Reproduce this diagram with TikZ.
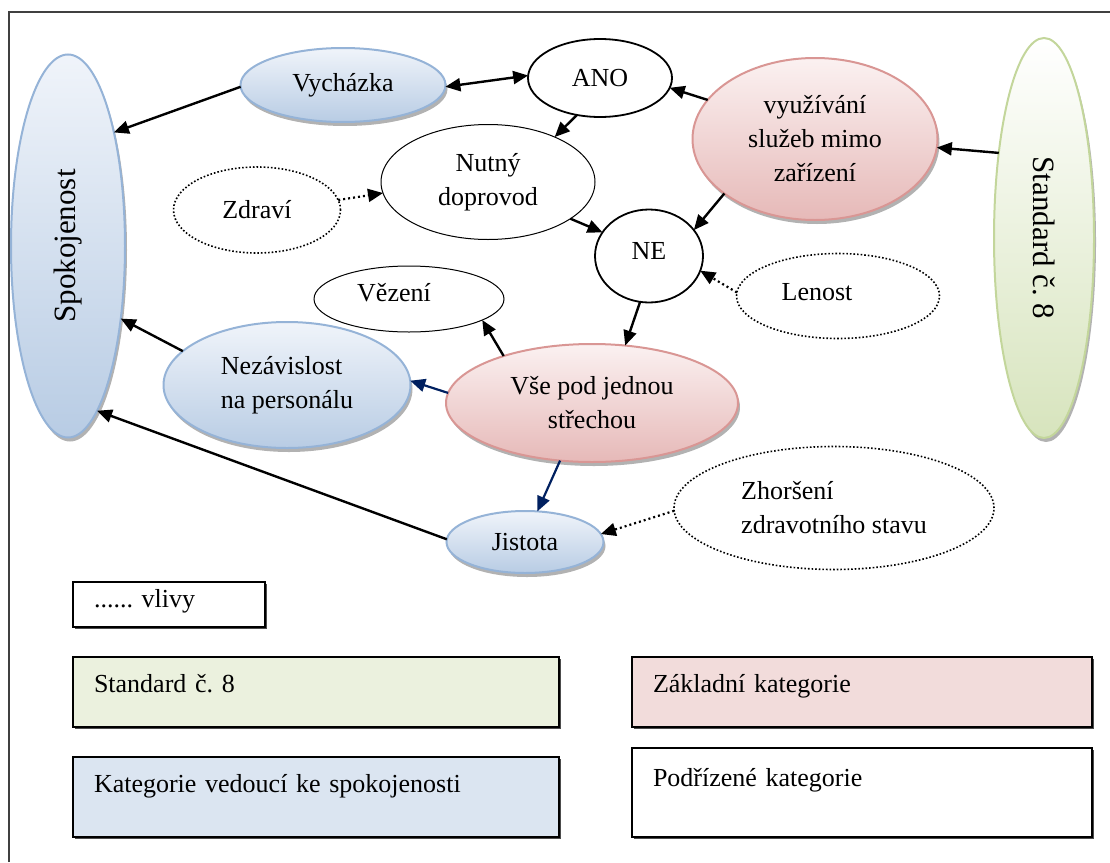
\documentclass[tikz,border=0pt]{standalone}
\usepackage{fontspec}
\setmainfont{Liberation Serif}
\usetikzlibrary{shapes.geometric,shadows,arrows.meta}
\definecolor{bluetop}{HTML}{F0F4FA}
\definecolor{bluebot}{HTML}{B8CCE4}
\definecolor{blueline}{HTML}{95B3D7}
\definecolor{pinktop}{HTML}{FBF1F1}
\definecolor{pinkbot}{HTML}{E6B9B8}
\definecolor{pinkline}{HTML}{D99694}
\definecolor{greentop}{HTML}{FFFFFF}
\definecolor{greenbot}{HTML}{D7E4BD}
\definecolor{greenline}{HTML}{C3D69B}
\definecolor{greenkey}{HTML}{EBF1DE}
\definecolor{pinkkey}{HTML}{F2DCDB}
\definecolor{bluekey}{HTML}{DBE5F1}
\definecolor{navy}{HTML}{002060}
\frenchspacing
\begin{document}
\begin{tikzpicture}[x=1pt, y=-1pt, >={Triangle[length=15pt,width=13pt]},
  font=\fontsize{26}{34}\selectfont,
  cat/.style={ellipse, inner sep=0pt, outer sep=0pt, align=center},
  catshadow/.style={drop shadow={shadow xshift=2pt, shadow yshift=-4pt, fill=black, opacity=.3}},
  bluecat/.style={cat, catshadow, draw=blueline, line width=2pt, top color=bluetop, bottom color=bluebot},
  pinkcat/.style={cat, catshadow, draw=pinkline, line width=2pt, top color=pinktop, bottom color=pinkbot},
  greencat/.style={cat, catshadow, draw=greenline, line width=2pt, top color=greentop, bottom color=greenbot},
  keycat/.style={cat, draw, line width=1.8pt, fill=white},
  subcat/.style={cat, draw, line width=1pt, fill=white},
  influence/.style={cat, draw, line width=1.6pt, dotted, fill=white},
  legendbox/.style={rectangle, draw, line width=1.5pt, inner xsep=21pt, inner ysep=0pt, align=left,
    drop shadow={shadow xshift=1.5pt, shadow yshift=-1.5pt, fill=black!70, opacity=1}},
  link/.style={line width=2.4pt},
  navylink/.style={line width=2.2pt, draw=navy, fill=navy},
  dotlink/.style={line width=2.2pt, dash pattern=on 2pt off 3pt}]
\useasboundingbox (0,0) rectangle (1110,862);
\draw[black!75, line width=1.5pt] (9,862) -- (9,12) -- (1110,12);
\node[bluecat, minimum width=114pt, minimum height=383pt] (spok) at (68,246) {\rotatebox{90}{\fontsize{31}{34}\selectfont Spokojenost}};
\node[bluecat, minimum width=205pt, minimum height=74pt] (vych) at (343,85) {Vycházka};
\node[keycat, minimum width=144pt, minimum height=78pt] (ano) at (600,78) {ANO};
\node[subcat, minimum width=214pt, minimum height=115pt] (nutny) at (488,182) {Nutný\\doprovod};
\node[influence, minimum width=167pt, minimum height=86pt] (zdravi) at (257,210) {Zdraví};
\node[pinkcat, minimum width=245pt, minimum height=162pt] (vyuz) at (815,139) {využívání\\služeb mimo\\zařízení};
\node[greencat, minimum width=100pt, minimum height=400pt] (std) at (1044,238) {\rotatebox{-90}{\fontsize{31}{34}\selectfont Standard č. 8}};
\node[keycat, minimum width=108pt, minimum height=93pt] (ne) at (649,256) {\raisebox{10pt}{NE}};
\node[influence, minimum width=203pt, minimum height=85pt] (lenost) at (838,296) {\raisebox{8pt}{Lenost}\hspace*{42pt}};
\node[subcat, minimum width=190pt, minimum height=66pt] (vezeni) at (409,299) {\raisebox{14pt}{Vězení}\hspace*{30pt}};
\node[bluecat, minimum width=247pt, minimum height=126pt, align=left] (nezav) at (287,385) {Nezávislost\\na personálu};
\node[pinkcat, minimum width=292pt, minimum height=118pt] (vse) at (592,403) {Vše pod jednou\\střechou};
\node[bluecat, minimum width=157pt, minimum height=62pt] (jist) at (525,542) {Jistota};
\node[influence, minimum width=320pt, minimum height=123pt, align=left] (zhor) at (834,508) {Zhoršení\\zdravotního stavu};
\draw[link, ->] (vych.181) -- (spok.68);
\draw[link, <->] (vych.-1) -- (ano.178);
\draw[link, ->] (vyuz.160) -- (ano.-8);
\draw[link, ->] (ano.-122) -- (nutny.34);
\draw[link, ->] (nutny.-24) -- (ne.153);
\draw[link, ->] (vyuz.-149) -- (ne.30);
\draw[link, ->] (std.118) -- (vyuz.-4);
\draw[dotlink, ->] (zdravi.7) -- (nutny.186);
\draw[dotlink, ->] (lenost.178) -- (ne.-16);
\draw[link, ->] (ne.-101) -- (vse.60);
\draw[link, ->] (vse.152) -- (vezeni.-16);
\draw[navylink, ->] (vse.176) -- (nezav.2);
\draw[link, ->] (nezav.162) -- (spok.-54);
\draw[link, ->] (jist.178) -- (spok.-80);
\draw[navylink, ->] (vse.-119) -- (jist.68);
\draw[dotlink, ->] (zhor.181) -- (jist.6);
\node[legendbox, fill=white, text width=150pt, text height=25pt, text depth=20pt] (keyinfl) at (169,604.5) {...... vlivy};
\node[legendbox, fill=greenkey, text width=444pt, text height=35pt, text depth=35pt] (keystd) at (316,692) {Standard č. 8};
\node[legendbox, fill=pinkkey, text width=418pt, text height=35pt, text depth=35pt] (keybase) at (862,692) {Základní kategorie};
\node[legendbox, fill=bluekey, text width=444pt, text height=35pt, text depth=45pt] (keylead) at (316,797) {Kategorie vedoucí ke spokojenosti};
\node[legendbox, fill=white, text width=418pt, text height=38pt, text depth=51pt] (keysub) at (862,792.5) {Podřízené kategorie};
\end{tikzpicture}
\end{document}
